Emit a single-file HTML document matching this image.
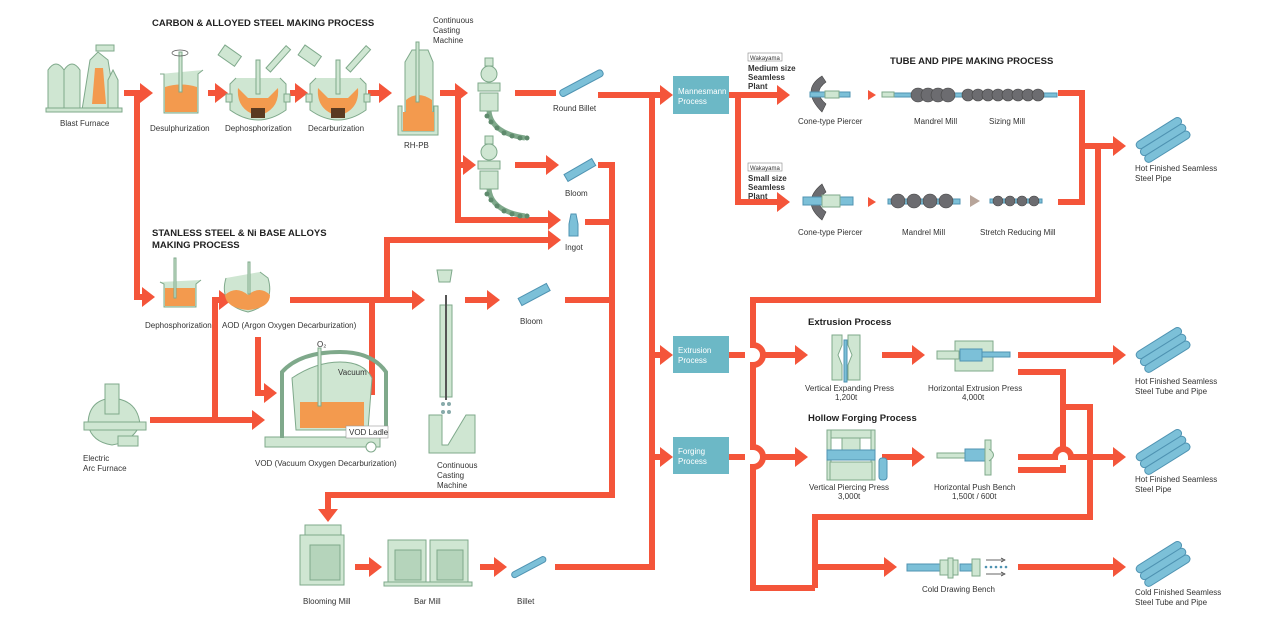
<!DOCTYPE html>
<html><head><meta charset="utf-8"><style>
html,body{margin:0;padding:0;background:#fff}
svg{display:block}
text{font-family:"Liberation Sans",sans-serif;fill:#333}
.l{font-size:8px}
.b{font-size:9.5px;font-weight:bold;fill:#222}
.w{font-size:8px;fill:#fff}
.r{fill:none;stroke:#f4553a;stroke-width:6}
.g{fill:#cfe6d2;stroke:#7fa98b;stroke-width:1}
.o{fill:#f39a4e}
.bl{fill:#7cc0d8;stroke:#4f93b2;stroke-width:1}
.gr{fill:#6c6c70;stroke:#444;stroke-width:.6}
</style></head><body>
<svg width="1266" height="622" viewBox="0 0 1266 622" xmlns="http://www.w3.org/2000/svg">
<defs>
<marker id="a" markerUnits="userSpaceOnUse" markerWidth="14" markerHeight="20" refX="0" refY="10" orient="auto"><path d="M0 0 L13 10 L0 20 z" fill="#f4553a"/></marker>
<g id="pipe"><g transform="rotate(-32)"><rect x="0" y="-10" width="52" height="8" rx="4" class="bl"/><rect x="0" y="-2" width="52" height="8" rx="4" class="bl"/><rect x="0" y="6" width="52" height="8" rx="4" class="bl"/></g></g>
<g id="caster"><rect x="10" y="0" width="8" height="8" class="g"/><circle cx="14" cy="16" r="8" class="g"/><rect x="3" y="25" width="22" height="8" class="g"/><rect x="5" y="35" width="18" height="18" class="g"/><path d="M14 53 Q16 75 50 80" fill="none" stroke="#7fa98b" stroke-width="5"/><g fill="#5e8a6c"><circle cx="12" cy="58" r="2.5"/><circle cx="16" cy="64" r="2.5"/><circle cx="22" cy="70" r="2.5"/><circle cx="29" cy="75" r="2.5"/><circle cx="37" cy="78" r="2.5"/><circle cx="45" cy="80" r="2.5"/><circle cx="52" cy="80" r="2.5"/></g></g>
<g id="conv"><path d="M-22 -18 L-28 -12 L-28 14 Q0 34 28 14 L28 -12 L22 -18" class="g"/><path d="M-20 -8 Q-22 14 0 20 Q22 14 20 -8 L10 2 L-10 2 z" class="o"/><rect x="-2" y="-36" width="4" height="34" class="g"/><rect x="-7" y="12" width="14" height="10" fill="#5a3a20"/><rect x="-32" y="-2" width="6" height="8" class="g"/><rect x="26" y="-2" width="6" height="8" class="g"/></g>
</defs>

<!-- titles -->
<text x="152" y="26" class="b">CARBON &amp; ALLOYED STEEL MAKING PROCESS</text>
<text x="152" y="236" class="b">STANLESS STEEL &amp; Ni BASE ALLOYS</text>
<text x="152" y="248" class="b">MAKING PROCESS</text>
<text x="890" y="64" class="b">TUBE AND PIPE MAKING PROCESS</text>
<text x="808" y="325" class="b">Extrusion Process</text>
<text x="808" y="421" class="b">Hollow Forging Process</text>

<!-- RED FLOW LINES -->
<g class="r">
<path d="M124 93 H140" marker-end="url(#a)"/>
<path d="M137 93 V297 H142" marker-end="url(#a)"/>
<path d="M208 93 H215" marker-end="url(#a)"/>
<path d="M290 93 H295" marker-end="url(#a)"/>
<path d="M368 93 H379" marker-end="url(#a)"/>
<path d="M440 93 H455" marker-end="url(#a)"/>
<path d="M458 93 V220 H548" marker-end="url(#a)"/>
<path d="M458 165 H463" marker-end="url(#a)"/>
<path d="M515 93 H556"/>
<path d="M598 95 H660" marker-end="url(#a)"/>
<path d="M515 165 H546" marker-end="url(#a)"/>
<path d="M598 165 H612 V495 H328 V509" marker-end="url(#a)"/>
<path d="M585 222 H612"/>
<path d="M565 300 H612"/>
<path d="M215 420 V300 H219" marker-end="url(#a)"/>
<path d="M150 420 H252" marker-end="url(#a)"/>
<path d="M258 337 V393 H264" marker-end="url(#a)"/>
<path d="M290 300 H412" marker-end="url(#a)"/>
<path d="M387 300 V240 H548" marker-end="url(#a)"/>
<path d="M358 392 H372 V300"/>
<path d="M465 300 H487" marker-end="url(#a)"/>
<path d="M355 567 H369" marker-end="url(#a)"/>
<path d="M480 567 H494" marker-end="url(#a)"/>
<path d="M555 567 H652 V95"/>
<path d="M652 355 H660" marker-end="url(#a)"/>
<path d="M652 457 H660" marker-end="url(#a)"/>
<!-- mannesmann -->
<path d="M729 95 H777" marker-end="url(#a)"/>
<path d="M738 95 V202 H777" marker-end="url(#a)"/>
<path d="M1058 93 H1082 V202 H1058"/>
<path d="M1082 146 H1113" marker-end="url(#a)"/>
<path d="M1098 146 V300 H753 V345 A10 10 0 0 1 753 365 V447 A10 10 0 0 1 753 467 V588 H815"/>
<!-- extrusion / forging -->
<path d="M729 355 H745"/>
<path d="M761 355 H795" marker-end="url(#a)"/>
<path d="M729 457 H745"/>
<path d="M761 457 H795" marker-end="url(#a)"/>
<path d="M882 355 H912" marker-end="url(#a)"/>
<path d="M882 457 H912" marker-end="url(#a)"/>
<path d="M1018 355 H1113" marker-end="url(#a)"/>
<path d="M1018 372 H1063 V449"/>
<path d="M1063 465 V470 H1018"/>
<path d="M1063 407 H1090 V517 H815 V588"/>
<path d="M1018 457 H1055 A8 8 0 0 1 1071 457 H1113" marker-end="url(#a)"/>
<path d="M815 567 H884" marker-end="url(#a)"/>
<path d="M1018 567 H1113" marker-end="url(#a)"/>
</g>

<!-- blue process boxes -->
<rect x="673" y="76" width="56" height="38" fill="#6cb8c6"/>
<text x="678" y="94" class="w">Mannesmann</text><text x="678" y="104" class="w">Process</text>
<rect x="673" y="336" width="56" height="37" fill="#6cb8c6"/>
<text x="678" y="353" class="w">Extrusion</text><text x="678" y="363" class="w">Process</text>
<rect x="673" y="437" width="56" height="37" fill="#6cb8c6"/>
<text x="678" y="454" class="w">Forging</text><text x="678" y="464" class="w">Process</text>

<!-- blast furnace -->
<path d="M48 110 V70 Q56 58 64 70 V110 z" class="g"/><path d="M64 110 V70 Q72 58 80 70 V110 z" class="g"/>
<path d="M82 110 L90 60 L98 52 L108 60 L116 110 z" class="g"/><path d="M92 104 L95 68 H103 L106 104 z" class="o"/>
<path d="M108 110 V80 L113 70 L118 80 V110 z" class="g"/><rect x="96" y="45" width="18" height="6" class="g"/>
<rect x="46" y="108" width="76" height="4" class="g"/>
<text x="60" y="126" class="l">Blast Furnace</text>
<!-- desulph -->
<path d="M160 74 L164 74 L164 113 L198 113 L198 74 L203 70" class="g"/><path d="M165 87 Q181 82 197 87 V112 H165 z" class="o"/>
<rect x="179" y="52" width="3" height="40" class="g"/><ellipse cx="180" cy="53" rx="8" ry="3" fill="none" stroke="#555" stroke-width=".7"/>
<text x="150" y="131" class="l">Desulphurization</text>
<!-- dephos / decarb -->
<use href="#conv" x="258" y="96"/><use href="#conv" x="338" y="96"/>
<g transform="translate(225,45) rotate(35)"><rect x="0" y="0" width="20" height="12" class="g"/></g><g transform="translate(266,68) rotate(-48)"><rect x="0" y="0" width="30" height="6" class="g"/></g>
<g transform="translate(305,45) rotate(35)"><rect x="0" y="0" width="20" height="12" class="g"/></g><g transform="translate(346,68) rotate(-48)"><rect x="0" y="0" width="30" height="6" class="g"/></g>
<text x="225" y="131" class="l">Dephosphorization</text>
<text x="308" y="131" class="l">Decarburization</text>
<!-- RH-PB -->
<path d="M405 62 L412 50 H428 L433 62 V112 H405 z" class="g"/><path d="M406 100 Q418 90 432 100 V112 H406 z" class="o"/>
<rect x="416" y="42" width="3" height="60" class="g"/>
<path d="M398 106 V135 H438 V106 L434 106 V131 H402 V106 z" class="g"/><rect x="403" y="112" width="31" height="19" class="o"/>
<text x="404" y="148" class="l">RH-PB</text>
<text x="433" y="23" class="l">Continuous</text><text x="433" y="33" class="l">Casting</text><text x="433" y="43" class="l">Machine</text>
<use href="#caster" x="475" y="58"/><use href="#caster" x="475" y="136"/>
<!-- billets -->
<g transform="translate(560,94) rotate(-28)"><rect x="0" y="-3" width="48" height="7" rx="3" class="bl"/></g>
<text x="553" y="111" class="l">Round Billet</text>
<g transform="translate(566,178) rotate(-30)"><rect x="0" y="-4" width="32" height="8" class="bl"/></g>
<text x="565" y="196" class="l">Bloom</text>
<path d="M571 214 H576 L578 224 V236 H569 V224 z" class="bl"/>
<text x="565" y="250" class="l">Ingot</text>
<!-- stainless -->
<path d="M160 282 L164 284 V307 H196 V284 L201 280" class="g"/><rect x="165" y="288" width="30" height="18" class="o"/><rect x="174" y="258" width="2" height="40" class="g"/>
<text x="145" y="328" class="l">Dephosphorization</text>
<path d="M226 278 Q218 305 248 312 Q276 305 268 278 L260 272" class="g"/><path d="M225 295 Q236 285 248 295 Q260 285 270 295 Q270 308 248 310 Q226 308 225 295 z" class="o"/><rect x="248" y="262" width="2" height="32" class="g"/>
<text x="222" y="328" class="l">AOD (Argon Oxygen Decarburization)</text>
<!-- VOD -->
<rect x="265" y="437" width="115" height="10" class="g"/><circle cx="371" cy="447" r="5" fill="#fff" stroke="#7fa98b"/>
<path d="M282 438 V372 Q300 352 340 352 Q372 352 386 372 V438" fill="none" stroke="#7fa98b" stroke-width="4"/>
<path d="M296 430 L292 378 Q316 362 340 362 Q364 362 372 378 L368 430 z" class="g"/>
<rect x="300" y="402" width="64" height="26" class="o"/>
<rect x="318" y="348" width="3" height="58" class="g"/>
<text x="317" y="347" class="l">O₂</text><text x="338" y="375" class="l">Vacuum</text>
<rect x="346" y="426" width="42" height="12" fill="#fff" stroke="#999" stroke-width=".6"/><text x="349" y="435" class="l">VOD Ladle</text>
<text x="255" y="466" class="l">VOD (Vacuum Oxygen Decarburization)</text>
<!-- arc furnace -->
<path d="M88 425 Q88 400 112 398 Q138 400 140 425 Q132 442 112 445 Q92 442 88 425 z" class="g"/><rect x="105" y="384" width="14" height="30" class="g"/><rect x="84" y="422" width="62" height="8" class="g"/><rect x="118" y="436" width="20" height="10" class="g"/>
<text x="83" y="461" class="l">Electric</text><text x="83" y="471" class="l">Arc Furnace</text>
<!-- vertical caster -->
<path d="M437 270 H452 L450 282 H439 z" class="g"/><rect x="440" y="305" width="12" height="92" class="g"/><line x1="446" y1="295" x2="446" y2="400" stroke="#555" stroke-width="2"/>
<g fill="#8aa" ><circle cx="443" cy="404" r="2"/><circle cx="449" cy="404" r="2"/><circle cx="443" cy="412" r="2"/><circle cx="449" cy="412" r="2"/></g>
<path d="M429 415 V453 H475 V415 H466 L448 445 H442 V415 z" class="g"/>
<text x="437" y="468" class="l">Continuous</text><text x="437" y="478" class="l">Casting</text><text x="437" y="488" class="l">Machine</text>
<g transform="translate(520,302) rotate(-28)"><rect x="0" y="-4" width="32" height="8" class="bl"/></g>
<text x="520" y="324" class="l">Bloom</text>
<!-- blooming / bar mill -->
<rect x="300" y="535" width="44" height="50" class="g"/><rect x="310" y="545" width="30" height="35" fill="#b5d4bb" stroke="#7fa98b"/><rect x="305" y="525" width="36" height="10" class="g"/>
<rect x="388" y="540" width="38" height="44" class="g"/><rect x="430" y="540" width="38" height="44" class="g"/><rect x="384" y="582" width="88" height="4" class="g"/>
<rect x="395" y="550" width="26" height="30" fill="#b5d4bb" stroke="#7fa98b"/><rect x="437" y="550" width="26" height="30" fill="#b5d4bb" stroke="#7fa98b"/>
<text x="303" y="604" class="l">Blooming Mill</text><text x="414" y="604" class="l">Bar Mill</text>
<g transform="translate(512,576) rotate(-28)"><rect x="0" y="-3" width="38" height="6" rx="3" class="bl"/></g>
<text x="517" y="604" class="l">Billet</text>

<!-- Mannesmann plants -->
<rect x="748" y="53" width="34" height="8" fill="#fff" stroke="#888" stroke-width=".6"/><text x="750" y="60" style="font-size:6px">Wakayama</text>
<text x="748" y="71" class="l" style="font-weight:bold">Medium size</text><text x="748" y="80" class="l" style="font-weight:bold">Seamless</text><text x="748" y="89" class="l" style="font-weight:bold">Plant</text>
<rect x="748" y="163" width="34" height="8" fill="#fff" stroke="#888" stroke-width=".6"/><text x="750" y="170" style="font-size:6px">Wakayama</text>
<text x="748" y="181" class="l" style="font-weight:bold">Small size</text><text x="748" y="190" class="l" style="font-weight:bold">Seamless</text><text x="748" y="199" class="l" style="font-weight:bold">Plant</text>
<path d="M822 76 Q800 90 822 112 L826 104 Q812 92 826 82 z" class="gr"/><rect x="810" y="92" width="40" height="5" class="bl"/><rect x="825" y="91" width="14" height="7" class="g"/>
<path d="M868 90 L876 95 L868 100 z" fill="#f4553a"/>
<rect x="882" y="93" width="175" height="4" class="bl"/><rect x="882" y="92" width="12" height="5" class="g"/>
<g class="gr"><circle cx="918" cy="95" r="7"/><circle cx="928" cy="95" r="7"/><circle cx="938" cy="95" r="7"/><circle cx="948" cy="95" r="7"/><circle cx="968" cy="95" r="6"/><circle cx="978" cy="95" r="6"/><circle cx="988" cy="95" r="6"/><circle cx="998" cy="95" r="6"/><circle cx="1008" cy="95" r="6"/><circle cx="1018" cy="95" r="6"/><circle cx="1028" cy="95" r="6"/><circle cx="1038" cy="95" r="6"/></g>
<text x="798" y="124" class="l">Cone-type Piercer</text><text x="914" y="124" class="l">Mandrel Mill</text><text x="989" y="124" class="l">Sizing Mill</text>
<path d="M822 184 Q800 202 822 220 L826 212 Q812 202 826 192 z" class="gr"/><rect x="803" y="197" width="50" height="8" class="bl"/><rect x="822" y="195" width="18" height="12" class="g"/>
<path d="M868 197 L876 202 L868 207 z" fill="#f4553a"/>
<rect x="888" y="199" width="72" height="5" class="bl"/>
<g class="gr"><circle cx="898" cy="201" r="7"/><circle cx="914" cy="201" r="7"/><circle cx="930" cy="201" r="7"/><circle cx="946" cy="201" r="7"/></g>
<path d="M970 195 L980 201 L970 207 z" fill="#b8a59a"/>
<rect x="990" y="199" width="52" height="4" class="bl"/>
<g class="gr"><circle cx="998" cy="201" r="5"/><circle cx="1010" cy="201" r="5"/><circle cx="1022" cy="201" r="5"/><circle cx="1034" cy="201" r="5"/></g>
<text x="798" y="235" class="l">Cone-type Piercer</text><text x="902" y="235" class="l">Mandrel Mill</text><text x="980" y="235" class="l">Stretch Reducing Mill</text>
<use href="#pipe" x="1140" y="152"/>
<text x="1135" y="171" class="l">Hot Finished Seamless</text><text x="1135" y="181" class="l">Steel Pipe</text>

<!-- extrusion -->
<path d="M832 335 H842 V345 L838 355 L842 365 V380 H832 z" class="g"/><path d="M848 335 H860 V380 H848 V365 L852 355 L848 345 z" class="g"/><rect x="844" y="340" width="3" height="42" class="bl"/>
<text x="805" y="391" class="l">Vertical Expanding Press</text><text x="835" y="400" class="l">1,200t</text>
<rect x="955" y="341" width="38" height="30" class="g"/><rect x="937" y="351" width="22" height="8" class="g"/><rect x="960" y="349" width="22" height="12" class="bl"/><rect x="982" y="352" width="28" height="5" class="bl"/>
<text x="928" y="391" class="l">Horizontal Extrusion Press</text><text x="962" y="400" class="l">4,000t</text>
<use href="#pipe" x="1140" y="362"/>
<text x="1135" y="384" class="l">Hot Finished Seamless</text><text x="1135" y="394" class="l">Steel Tube and Pipe</text>
<!-- forging -->
<rect x="827" y="430" width="48" height="8" class="g"/><rect x="827" y="430" width="4" height="50" class="g"/><rect x="871" y="430" width="4" height="50" class="g"/><rect x="842" y="438" width="18" height="12" class="g"/><rect x="827" y="450" width="48" height="10" class="bl"/><rect x="830" y="462" width="42" height="18" class="g"/>
<rect x="879" y="458" width="8" height="22" rx="3" class="bl"/>
<text x="809" y="490" class="l">Vertical Piercing Press</text><text x="838" y="499" class="l">3,000t</text>
<rect x="937" y="453" width="35" height="5" class="g"/><rect x="965" y="449" width="24" height="12" class="bl"/><rect x="985" y="440" width="6" height="35" class="g"/><path d="M989 449 Q998 455 989 461" class="g"/>
<text x="934" y="490" class="l">Horizontal Push Bench</text><text x="952" y="499" class="l">1,500t / 600t</text>
<use href="#pipe" x="1140" y="464"/>
<text x="1135" y="482" class="l">Hot Finished Seamless</text><text x="1135" y="492" class="l">Steel Pipe</text>
<!-- cold drawing -->
<rect x="907" y="564" width="40" height="7" class="bl"/><rect x="940" y="560" width="18" height="15" class="g"/><rect x="948" y="558" width="5" height="20" class="g"/><rect x="960" y="564" width="16" height="7" class="bl"/><rect x="972" y="559" width="8" height="17" class="g"/>
<g fill="#4f93b2"><circle cx="986" cy="567" r="1.3"/><circle cx="991" cy="567" r="1.3"/><circle cx="996" cy="567" r="1.3"/><circle cx="1001" cy="567" r="1.3"/><circle cx="1006" cy="567" r="1.3"/></g>
<path d="M986 560 H1003 M986 574 H1003" stroke="#333" stroke-width=".7"/><path d="M1001 558 L1005 560 L1001 562 M1001 572 L1005 574 L1001 576" fill="none" stroke="#333" stroke-width=".7"/>
<text x="922" y="592" class="l">Cold Drawing Bench</text>
<use href="#pipe" x="1140" y="576"/>
<text x="1135" y="595" class="l">Cold Finished Seamless</text><text x="1135" y="605" class="l">Steel Tube and Pipe</text>
</svg>
</body></html>
